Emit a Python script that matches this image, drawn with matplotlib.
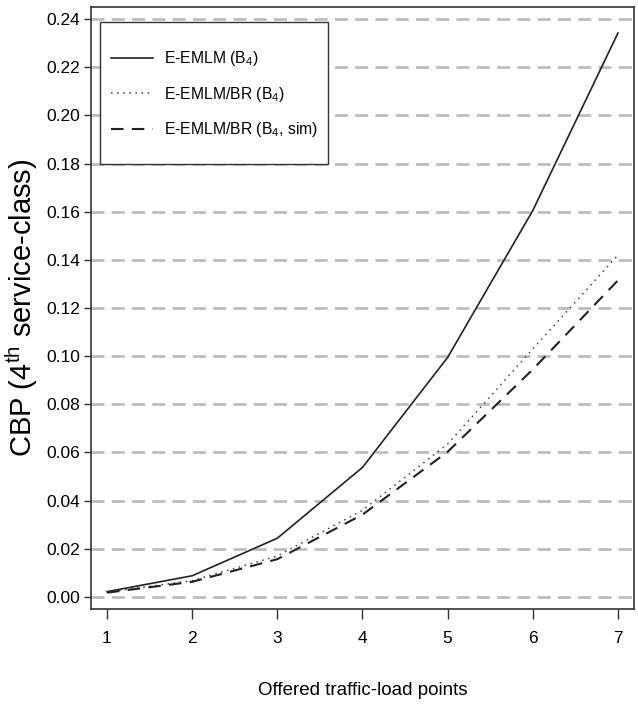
import matplotlib
matplotlib.use('Agg')
import matplotlib.pyplot as plt
from matplotlib.patches import Rectangle

# offered traffic-load points
load_points = [1, 2, 3, 4, 5, 6, 7]

# CBP of the 4th service-class
cbp_eemlm = [0.0022, 0.0088, 0.0244, 0.0538, 0.0995, 0.1605, 0.2342]
cbp_eemlm_br = [0.0020, 0.0068, 0.0170, 0.0360, 0.0635, 0.1030, 0.1420]
cbp_eemlm_br_sim = [0.0018, 0.0063, 0.0157, 0.0342, 0.0603, 0.0945, 0.1315]

legend_labels = ['E-EMLM (B$_4$)', 'E-EMLM/BR (B$_4$)', 'E-EMLM/BR (B$_4$, sim)']
y_ticks = [0.00, 0.02, 0.04, 0.06, 0.08, 0.10, 0.12, 0.14, 0.16, 0.18, 0.20, 0.22, 0.24]

plt.rcParams['font.family'] = ['Liberation Sans', 'DejaVu Sans']
plt.rcParams['mathtext.fontset'] = 'custom'
plt.rcParams['mathtext.rm'] = 'Liberation Sans'
plt.rcParams['mathtext.it'] = 'Liberation Sans'

fig = plt.figure(figsize=(6.38, 7.08), dpi=100)
ax = fig.add_axes([0.1426, 0.1398, 0.8511, 0.8503])

# horizontal grid
for yv in y_ticks:
    ax.axhline(yv, color='#bdbdbd', lw=2.0, dashes=(4.7, 2.6), zorder=1)

ax.plot(load_points, cbp_eemlm, color='#222222', lw=1.2, label=legend_labels[0], zorder=3)
ax.plot(load_points, cbp_eemlm_br, color='#444444', lw=1.1, dashes=(1, 3), label=legend_labels[1], zorder=3)
ax.plot(load_points, cbp_eemlm_br_sim, color='#222222', lw=1.5, dashes=(6, 4), label=legend_labels[2], zorder=3)

ax.set_xlim(0.812, 7.188)
ax.set_ylim(-0.005, 0.245)
ax.set_xticks(load_points)
ax.set_yticks(y_ticks)
ax.set_yticklabels([f'{v:.2f}' for v in y_ticks])
ax.tick_params(axis='x', length=7, width=1, labelsize=12.5, pad=9, color='#333333')
ax.tick_params(axis='y', length=5, width=1, labelsize=12.5, pad=3, color='#333333')
for s in ax.spines.values():
    s.set_linewidth(1.2)
    s.set_color('#333333')

ax.set_xlabel('Offered traffic-load points', fontsize=13.5, labelpad=26)
ax.set_ylabel('CBP (4$^{\\mathrm{th}}$ service-class)', fontsize=21, labelpad=4)

# legend box drawn separately (taller padding than wide)
ax.add_patch(Rectangle((0.0166, 0.739), 0.42, 0.236, transform=ax.transAxes,
                       facecolor='white', edgecolor='#333333', lw=1.0, zorder=4))
leg = ax.legend(loc='upper left', bbox_to_anchor=(0.0368, 0.930), fontsize=11.3,
                frameon=False, handlelength=2.7, handletextpad=0.7,
                labelspacing=1.05, borderpad=0, borderaxespad=0)
leg.set_zorder(5)

fig.savefig('out.png', dpi=100)
